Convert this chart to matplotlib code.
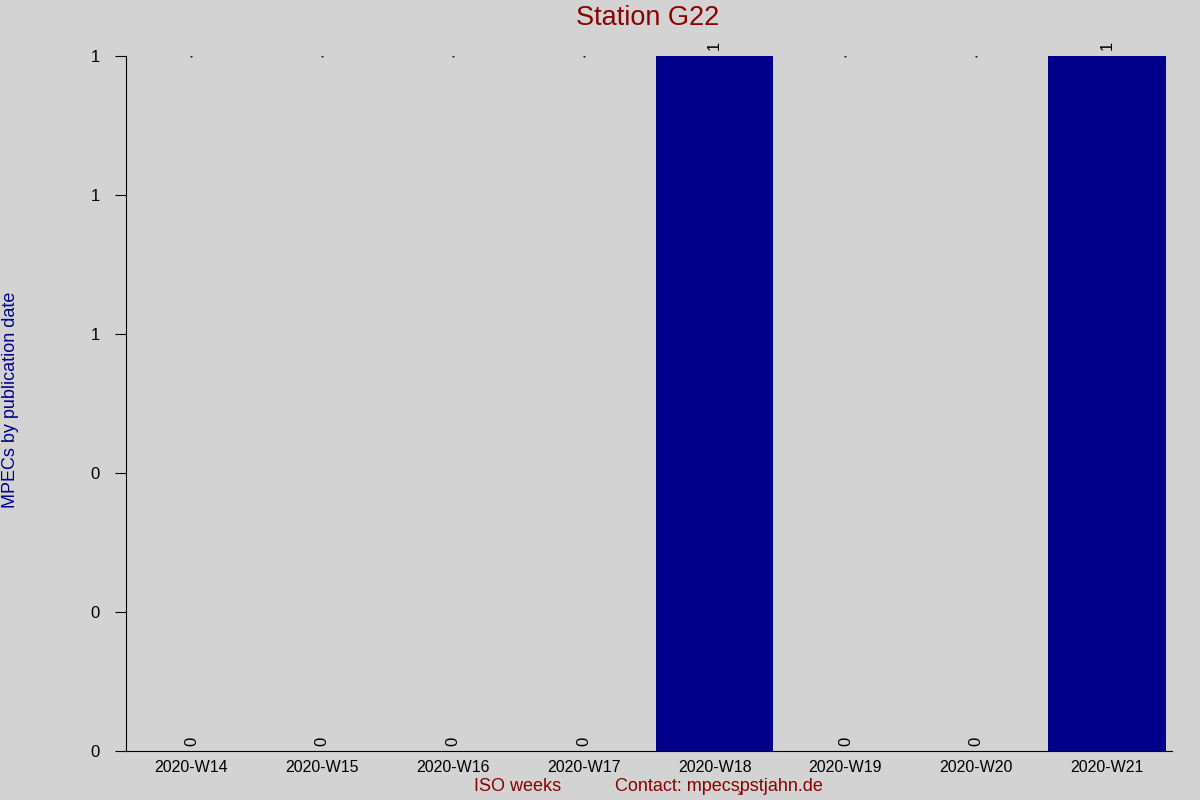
import numpy as np
import matplotlib.pyplot as plt
from matplotlib.ticker import FormatStrFormatter

# data
weeks = ["2020-W14", "2020-W15", "2020-W16", "2020-W17",
         "2020-W18", "2020-W19", "2020-W20", "2020-W21"]
counts = [0, 0, 0, 0, 1, 0, 0, 1]

BG = "#d3d3d3"
BAR = "#00008b"
RED = "#8b0000"

plt.rcParams['font.family'] = ['Liberation Sans', 'DejaVu Sans']

fig = plt.figure(figsize=(12, 8), dpi=100, facecolor=BG)
ax = fig.add_axes([0.105, 0.061, 0.872, 0.869], facecolor=BG)

x = np.arange(len(weeks))
ax.bar(x, counts, width=0.9, color=BAR)

ymax = max(counts)
for xi, c in zip(x, counts):
    ax.annotate(str(c), (xi, c), xytext=(0, 4), textcoords="offset points",
                rotation=90, ha="center", va="bottom", fontsize=12)
    if c == 0:
        ax.plot(xi, ymax, marker=".", markersize=1, color="black")

ax.set_xlim(-0.5, len(weeks) - 0.5)
ax.set_ylim(0, ymax)
ax.set_xticks(x)
ax.set_xticklabels(weeks, fontsize=11.5)
ax.set_yticks(np.linspace(0, ymax, 6))
ax.yaxis.set_major_formatter(FormatStrFormatter('%.0f'))
ax.tick_params(axis="y", labelsize=12, length=8, direction="out", pad=11)
ax.tick_params(axis="x", length=0, pad=6)

for s in ["top", "right"]:
    ax.spines[s].set_visible(False)

fig.text(0.54, 0.977, "Station G22", color=RED, fontsize=19.5, ha="center", va="center")
fig.text(0.009, 0.5, "MPECs by publication date", color=BAR, fontsize=13,
         rotation=90, ha="center", va="center")
fig.text(0.431, 0.017, "ISO weeks", color=RED, fontsize=13, ha="center", va="center")
fig.text(0.599, 0.017, "Contact: mpecs\u0327pstjahn.de", color=RED, fontsize=13,
         ha="center", va="center")

fig.savefig("out.png", dpi=100, facecolor=BG)
